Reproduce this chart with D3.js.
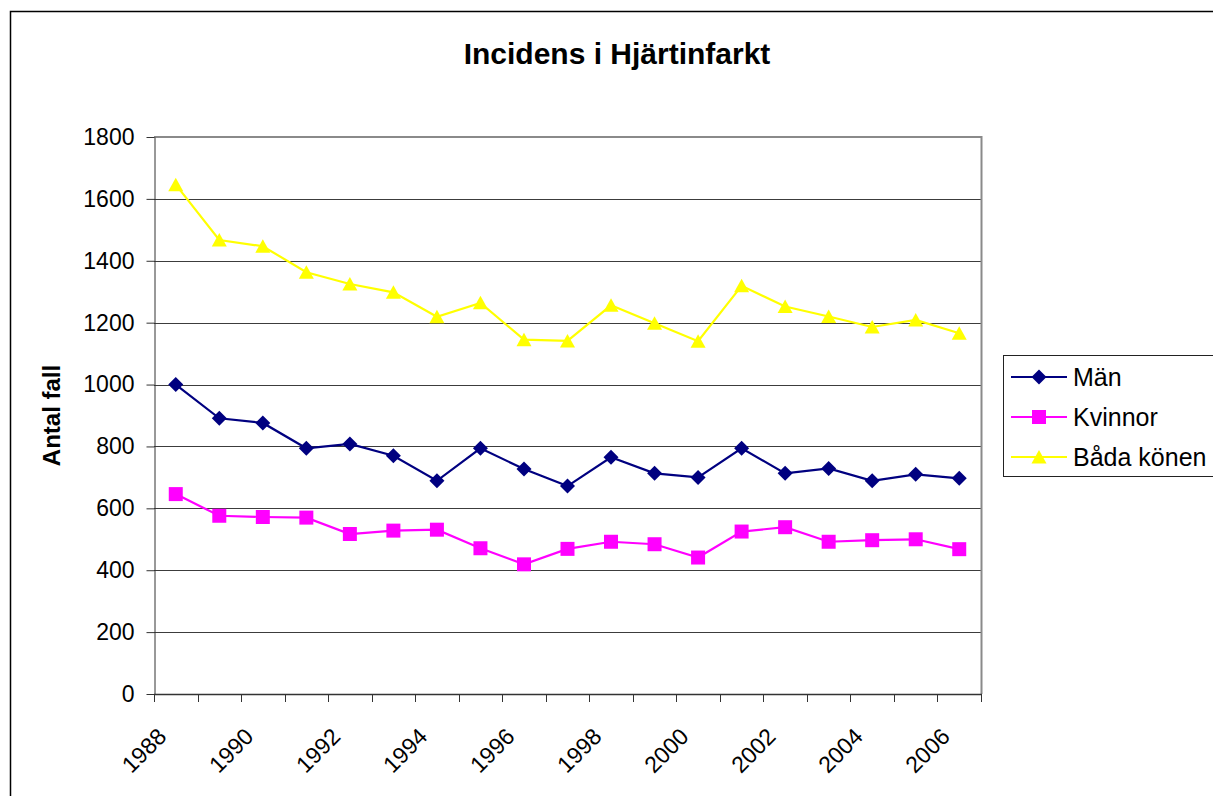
<!DOCTYPE html>
<html>
<head>
<meta charset="utf-8">
<script src="https://cdn.jsdelivr.net/npm/d3@7"></script>
<style>
  body { margin: 0; background: #fff; }
  svg text { font-family: Arial, "Liberation Sans", sans-serif; fill: #000; }
</style>
</head>
<body>
<div id="chart"></div>
<script>
var years = [1988, 1989, 1990, 1991, 1992, 1993, 1994, 1995, 1996, 1997,
             1998, 1999, 2000, 2001, 2002, 2003, 2004, 2005, 2006];
var man = [1000, 891, 876, 794, 808, 770, 689, 794, 727, 672,
           765, 713, 700, 794, 713, 729, 689, 710, 697];
var kvinnor = [646, 576, 572, 570, 517, 528, 531, 471, 419, 469,
               492, 484, 441, 525, 539, 492, 497, 500, 468];
var badaKonen = [1646, 1467, 1447, 1363, 1325, 1298, 1219, 1264, 1145, 1141,
                 1256, 1198, 1140, 1319, 1252, 1220, 1186, 1209, 1166];
var seriesNames = ["Män", "Kvinnor", "Båda könen"];
var yTicks = [0, 200, 400, 600, 800, 1000, 1200, 1400, 1600, 1800];

var W = 1213, H = 796;
var plot = {left: 154, right: 981, top: 137, bottom: 694};

var svg = d3.select("#chart").append("svg")
    .attr("width", W)
    .attr("height", H);

// outer chart border (runs off the right and bottom edge)
svg.append("rect")
    .attr("x", 10.5).attr("y", 11.5)
    .attr("width", 1260).attr("height", 1000)
    .attr("fill", "none")
    .attr("stroke", "#000")
    .attr("stroke-width", 1.5);

var x = d3.scaleBand().domain(years).range([plot.left, plot.right]).padding(0);
var y = d3.scaleLinear().domain([0, 1800]).range([plot.bottom, plot.top]);

// gridlines
svg.append("g")
    .selectAll("line")
    .data(yTicks.filter(function (d) { return d > 0 && d < 1800; }))
    .enter().append("line")
    .attr("x1", plot.left).attr("x2", plot.right)
    .attr("y1", function (d) { return Math.round(y(d)) + 0.5; })
    .attr("y2", function (d) { return Math.round(y(d)) + 0.5; })
    .attr("stroke", "#3c3c3c")
    .attr("stroke-width", 1);

// plot area top / right border
svg.append("path")
    .attr("d", "M" + plot.left + "," + y(1800) + "H" + (plot.right + 0.5) + "V" + plot.bottom)
    .attr("fill", "none")
    .attr("stroke", "#8a8a8a")
    .attr("stroke-width", 2);

// y axis
var yAxis = svg.append("g")
    .attr("transform", "translate(" + (plot.left + 0.5) + ",0)")
    .call(d3.axisLeft(y).tickValues(yTicks).tickFormat(d3.format("d"))
        .tickSize(8).tickPadding(12).tickSizeOuter(0));
yAxis.select(".domain").attr("stroke", "#333");
yAxis.selectAll(".tick line").attr("stroke", "#333");
yAxis.selectAll("text")
    .attr("font-size", "23px")
    .attr("font-family", "Arial, 'Liberation Sans', sans-serif")
    .attr("fill", "#000");

// x axis: ticks between categories
var bounds = years.map(function (d) { return x(d); }).concat([plot.right]);
var xg = svg.append("g");
xg.append("line")
    .attr("x1", plot.left).attr("x2", plot.right + 1)
    .attr("y1", plot.bottom + 0.5).attr("y2", plot.bottom + 0.5)
    .attr("stroke", "#333")
    .attr("stroke-width", 1.5);
xg.selectAll(".xt")
    .data(bounds)
    .enter().append("line")
    .attr("class", "xt")
    .attr("x1", function (d) { return Math.round(d) + 0.5; })
    .attr("x2", function (d) { return Math.round(d) + 0.5; })
    .attr("y1", plot.bottom)
    .attr("y2", plot.bottom + 8)
    .attr("stroke", "#333");

xg.selectAll(".xl")
    .data(years.filter(function (d, i) { return i % 2 === 0; }))
    .enter().append("text")
    .attr("class", "xl")
    .attr("transform", function (d) {
        return "translate(" + (x(d) + x.bandwidth() / 2 - 8) + "," + 738 + ") rotate(-45)";
    })
    .attr("text-anchor", "end")
    .attr("font-size", "23px")
    .text(function (d) { return d; });

// title
svg.append("text")
    .attr("x", 617).attr("y", 64)
    .attr("text-anchor", "middle")
    .attr("font-size", "30px")
    .attr("font-weight", "bold")
    .text("Incidens i Hjärtinfarkt");

// y axis title
svg.append("text")
    .attr("transform", "translate(60," + ((plot.top + plot.bottom) / 2) + ") rotate(-90)")
    .attr("text-anchor", "middle")
    .attr("font-size", "24px")
    .attr("font-weight", "bold")
    .text("Antal fall");

// markers
var markerPath = {
    diamond: "M0,-7.5L7.5,0L0,7.5L-7.5,0Z",
    square: "M-7,-7H7V7H-7Z",
    triangle: "M0,-7L7.5,6.5H-7.5Z"
};

var series = [
    {name: seriesNames[0], values: man, color: "#000080", marker: "diamond"},
    {name: seriesNames[1], values: kvinnor, color: "#ff00ff", marker: "square"},
    {name: seriesNames[2], values: badaKonen, color: "#ffff00", marker: "triangle"}
];

var line = d3.line()
    .x(function (d) { return x(d.year) + x.bandwidth() / 2; })
    .y(function (d) { return y(d.value); });

series.forEach(function (s) {
    var pts = years.map(function (yr, i) { return {year: yr, value: s.values[i]}; });
    var g = svg.append("g");
    g.append("path")
        .datum(pts)
        .attr("d", line)
        .attr("fill", "none")
        .attr("stroke", s.color)
        .attr("stroke-width", 2.2);
    g.selectAll("path.m")
        .data(pts)
        .enter().append("path")
        .attr("class", "m")
        .attr("d", markerPath[s.marker])
        .attr("transform", function (d) {
            return "translate(" + (x(d.year) + x.bandwidth() / 2) + "," + y(d.value) + ")";
        })
        .attr("fill", s.color);
});

// legend
var legend = svg.append("g");
legend.append("rect")
    .attr("x", 1003.5).attr("y", 355.5)
    .attr("width", 240).attr("height", 121)
    .attr("fill", "#fff")
    .attr("stroke", "#222")
    .attr("stroke-width", 1);

var li = legend.selectAll("g.li")
    .data(series)
    .enter().append("g")
    .attr("class", "li")
    .attr("transform", function (d, i) { return "translate(0," + (377 + i * 40) + ")"; });
li.append("line")
    .attr("x1", 1011).attr("x2", 1067)
    .attr("y1", 0).attr("y2", 0)
    .attr("stroke", function (d) { return d.color; })
    .attr("stroke-width", 2.2);
li.append("path")
    .attr("d", function (d) { return markerPath[d.marker]; })
    .attr("transform", "translate(1039,0)")
    .attr("fill", function (d) { return d.color; });
li.append("text")
    .attr("x", 1073)
    .attr("y", 0)
    .attr("dy", "0.36em")
    .attr("font-size", "25px")
    .text(function (d) { return d.name; });
</script>
</body>
</html>
